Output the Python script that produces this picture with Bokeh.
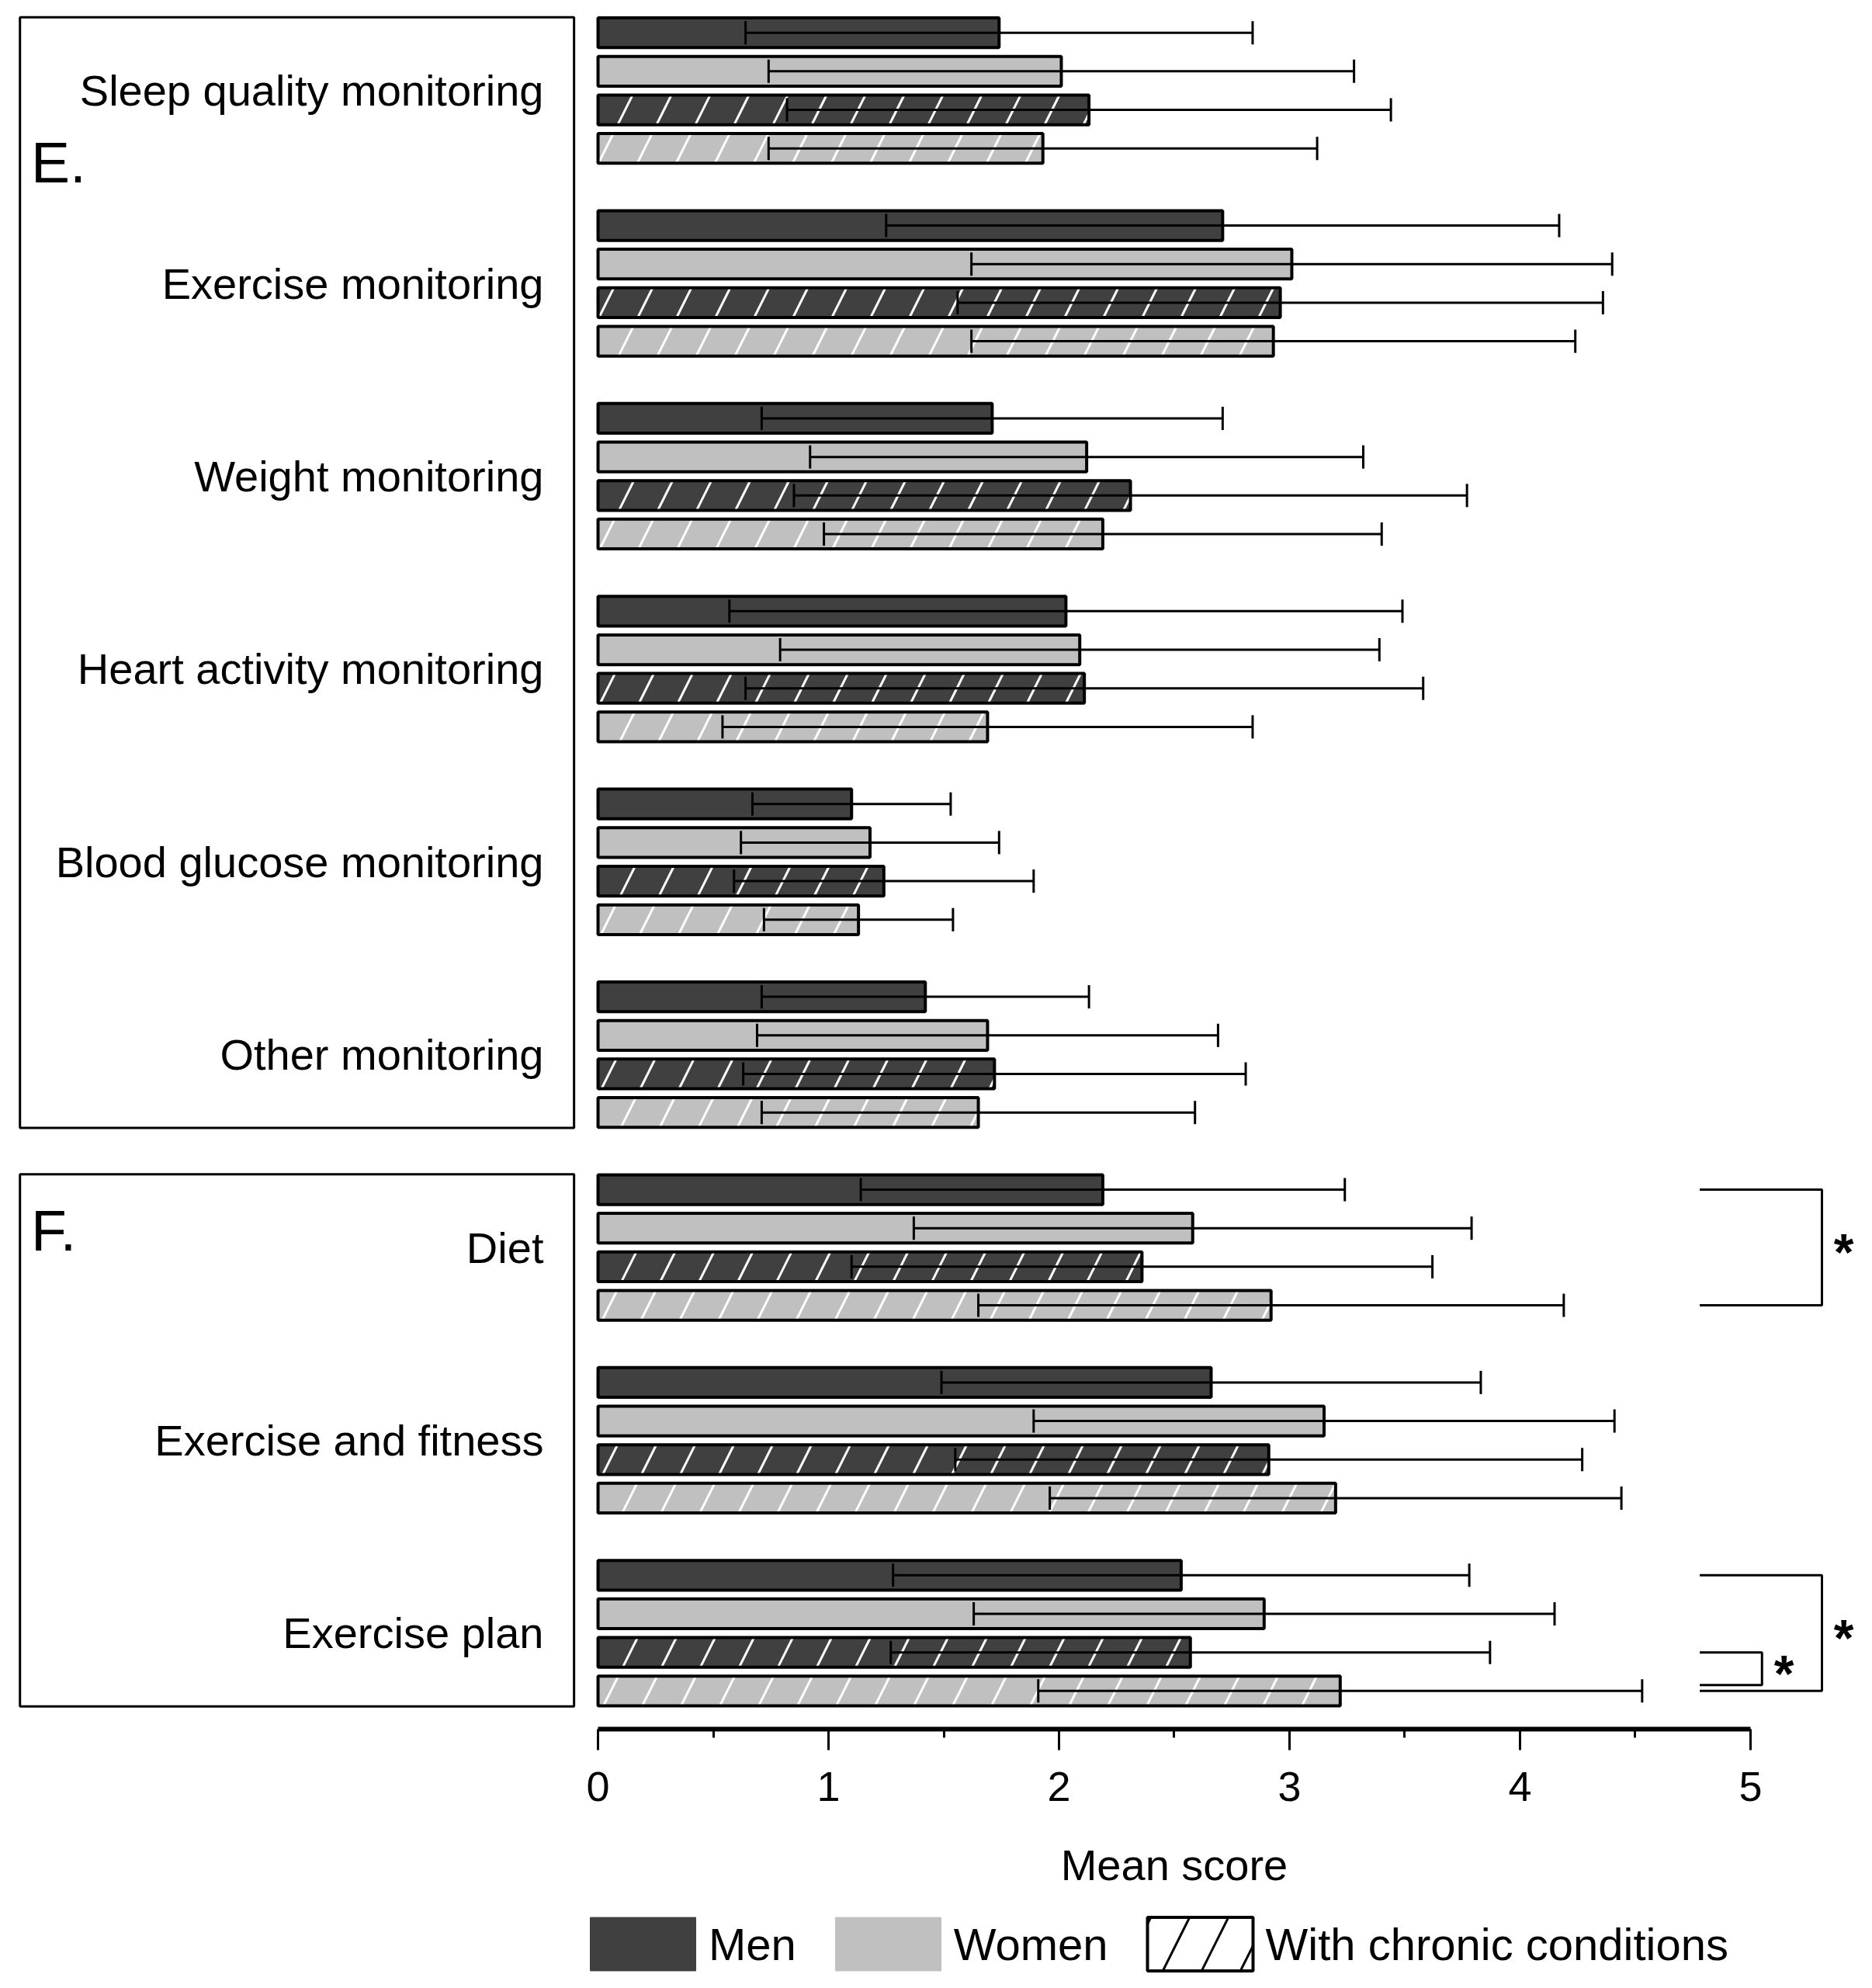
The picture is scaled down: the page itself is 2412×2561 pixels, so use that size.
from bokeh.plotting import figure
from bokeh.layouts import column
from bokeh.models import (ColumnDataSource, Range1d, LinearAxis, FixedTicker, Whisker, TeeHead,
                          Legend, LegendItem, BoxAnnotation)
from bokeh.core.properties import value
from bokeh.embed import file_html
from bokeh.resources import INLINE

# ---------------- data ----------------
categories = ["Sleep quality monitoring", "Exercise monitoring", "Weight monitoring",
              "Heart activity monitoring", "Blood glucose monitoring", "Other monitoring",
              "Diet", "Exercise and fitness", "Exercise plan"]
section_names = ["E.", "F."]
section_first = [0, 6]
section_last = [5, 8]

men_mean = [1.74, 2.71, 1.71, 2.03, 1.10, 1.42, 2.19, 2.66, 2.53]
men_sd = [1.10, 1.46, 1.00, 1.46, 0.43, 0.71, 1.05, 1.17, 1.25]
women_mean = [2.01, 3.01, 2.12, 2.09, 1.18, 1.69, 2.58, 3.15, 2.89]
women_sd = [1.27, 1.39, 1.20, 1.30, 0.56, 1.00, 1.21, 1.26, 1.26]
men_cc_mean = [2.13, 2.96, 2.31, 2.11, 1.24, 1.72, 2.36, 2.91, 2.57]
men_cc_sd = [1.31, 1.40, 1.46, 1.47, 0.65, 1.09, 1.26, 1.36, 1.30]
women_cc_mean = [1.93, 2.93, 2.19, 1.69, 1.13, 1.65, 2.92, 3.20, 3.22]
women_cc_sd = [1.19, 1.31, 1.21, 1.15, 0.41, 0.94, 1.27, 1.24, 1.31]

x_ticks = [0, 1, 2, 3, 4, 5]
x_minor_ticks = [0.5, 1.5, 2.5, 3.5, 4.5]
x_label = "Mean score"
legend_labels = ["Men", "Women", "With chronic conditions"]

# significance brackets: category, first series, last series
sig_cat = [6, 8, 8]
sig_from = [0, 0, 2]
sig_to = [3, 3, 3]
sig_text = ["*", "*", "*"]

# ---------------- style ----------------
DARK = "#404040"
LIGHT = "#c0c0c0"
FONT = "Liberation Sans"
SLOTS = 5            # 4 bars + 1 gap per category
BAR_H = 0.77
HATCH_SCALE = 100
sig_inset = [0.0, 0.0, 0.15]
sig_left = [4.78, 4.78, 4.78]
sig_right = [5.31, 5.31, 5.05]
section_label_offset = [3.35, 1.05]

p = figure(frame_width=2396, frame_height=2219,
           x_range=Range1d(-2.566, 5.502), y_range=Range1d(-43.99, 0.678),
           output_backend="svg", toolbar_location=None,
           x_axis_location=None, y_axis_location=None,
           min_border=0, min_border_left=8, min_border_top=8, min_border_bottom=130,
           outline_line_color=None, background_fill_color="white",
           border_fill_color="white")
p.grid.visible = False

series = [
    (men_mean, men_sd, DARK, None),
    (women_mean, women_sd, LIGHT, None),
    (men_cc_mean, men_cc_sd, DARK, "/"),
    (women_cc_mean, women_cc_sd, LIGHT, "/"),
]

for k, (mean, sd, color, hatch) in enumerate(series):
    n = len(categories)
    src = ColumnDataSource(dict(
        y=[-(g * SLOTS + k) for g in range(n)], right=mean,
        lower=[m - s for m, s in zip(mean, sd)],
        upper=[m + s for m, s in zip(mean, sd)],
    ))
    kw = dict(fill_color=color, line_color="black", line_width=4)
    if hatch:
        kw.update(hatch_pattern=hatch, hatch_color="white", hatch_weight=3,
                  hatch_scale=HATCH_SCALE)
    p.hbar(y="y", left=0, right="right", height=BAR_H, source=src, **kw)
    w = Whisker(source=src, base="y", lower="lower", upper="upper", dimension="width",
                line_color="black", line_width=3, level="overlay",
                lower_head=TeeHead(size=30, line_width=3, line_color="black"),
                upper_head=TeeHead(size=30, line_width=3, line_color="black"))
    p.add_layout(w)

# section boxes and letters
for i, name in enumerate(section_names):
    top = -(section_first[i] * SLOTS) + 0.4
    bottom = -(section_last[i] * SLOTS + 3) - 0.4
    p.add_layout(BoxAnnotation(left=-2.508, right=-0.104, top=top, bottom=bottom,
                               fill_alpha=0, line_color="black", line_alpha=1, line_width=3))
sec_src = ColumnDataSource(dict(
    x=[-2.46] * len(section_names),
    y=[-(section_first[i] * SLOTS + section_label_offset[i]) for i in range(len(section_names))],
    t=section_names))
p.text(x="x", y="y", text="t", source=sec_src, text_align="left", text_baseline="middle",
       text_font=value(FONT), text_font_size="75px", text_color="black")

# category labels
cat_src = ColumnDataSource(dict(
    x=[-0.236] * len(categories),
    y=[-(g * SLOTS + 1.5) for g in range(len(categories))],
    t=categories))
p.text(x="x", y="y", text="t", source=cat_src, text_align="right", text_baseline="middle",
       text_font=value(FONT), text_font_size="56px", text_color="black")

# significance brackets
bx, by, sx, sy = [], [], [], []
for c, a, b, ins, xl, xr in zip(sig_cat, sig_from, sig_to, sig_inset, sig_left, sig_right):
    y1 = -(c * SLOTS + a)
    y2 = -(c * SLOTS + b) + ins
    bx.append([xl, xr, xr, xl])
    by.append([y1, y1, y2, y2])
    sx.append(xr + 0.095)
    sy.append((y1 + y2) / 2)
p.multi_line(xs=bx, ys=by, line_color="black", line_width=3)
p.text(x=sx, y=sy, text=sig_text, text_align="center", text_baseline="middle", y_offset=6,
       text_font=value(FONT), text_font_size="66px", text_font_style="bold", text_color="black")

# x axis
xaxis = LinearAxis(ticker=FixedTicker(ticks=x_ticks, minor_ticks=x_minor_ticks), bounds=(0, 5))
xaxis.axis_line_width = 6
xaxis.axis_line_color = "black"
xaxis.major_tick_line_width = 3
xaxis.major_tick_out = 27
xaxis.major_tick_in = 0
xaxis.minor_tick_line_width = 3
xaxis.minor_tick_out = 11
xaxis.minor_tick_in = 0
xaxis.major_label_text_font = FONT
xaxis.major_label_text_font_size = "54px"
xaxis.major_label_text_color = "black"
xaxis.major_label_standoff = 28
p.add_layout(xaxis, "below")

# ---------------- lower strip: axis title + legend ----------------
H2 = 190
p2 = figure(frame_width=2396, frame_height=H2, x_range=p.x_range, y_range=Range1d(0, H2),
            output_backend="svg", toolbar_location=None,
            x_axis_location=None, y_axis_location=None,
            min_border=0, min_border_left=8,
            outline_line_color=None, background_fill_color="white",
            border_fill_color="white")
p2.grid.visible = False

# axis title centred on the middle of the 0..5 scale
p2.text(x=[(x_ticks[0] + x_ticks[-1]) / 2], y=[H2 - 45], text=[x_label],
        text_align="center", text_baseline="middle",
        text_font=value(FONT), text_font_size="56px", text_color="black")

# legend swatches: hidden renderers (one placeholder row each so the swatch is drawn)
leg_src = ColumnDataSource(dict(y=[0], right=[0]))
r_men = p2.hbar(y="y", left=0, right="right", height=1, source=leg_src, visible=False,
                fill_color=DARK, line_color=DARK, line_width=1)
r_women = p2.hbar(y="y", left=0, right="right", height=1, source=leg_src, visible=False,
                  fill_color=LIGHT, line_color=LIGHT, line_width=1)
r_cc = p2.hbar(y="y", left=0, right="right", height=1, source=leg_src, visible=False,
               fill_color="white", line_color="black", line_width=4,
               hatch_pattern="/", hatch_color="black", hatch_weight=3, hatch_scale=HATCH_SCALE)
legend = Legend(items=[LegendItem(label=legend_labels[0], renderers=[r_men]),
                       LegendItem(label=legend_labels[1], renderers=[r_women]),
                       LegendItem(label=legend_labels[2], renderers=[r_cc])],
                orientation="horizontal", location=(735, 0),
                glyph_width=170, glyph_height=86, label_standoff=0, spacing=33,
                padding=0, margin=0, border_line_color=None, background_fill_alpha=0,
                inactive_fill_alpha=0,
                label_text_font=FONT, label_text_font_size="58px", label_text_color="black")
p2.add_layout(legend)

layout = column(p, p2, spacing=0)
open("out.html", "w").write(file_html(layout, INLINE))
